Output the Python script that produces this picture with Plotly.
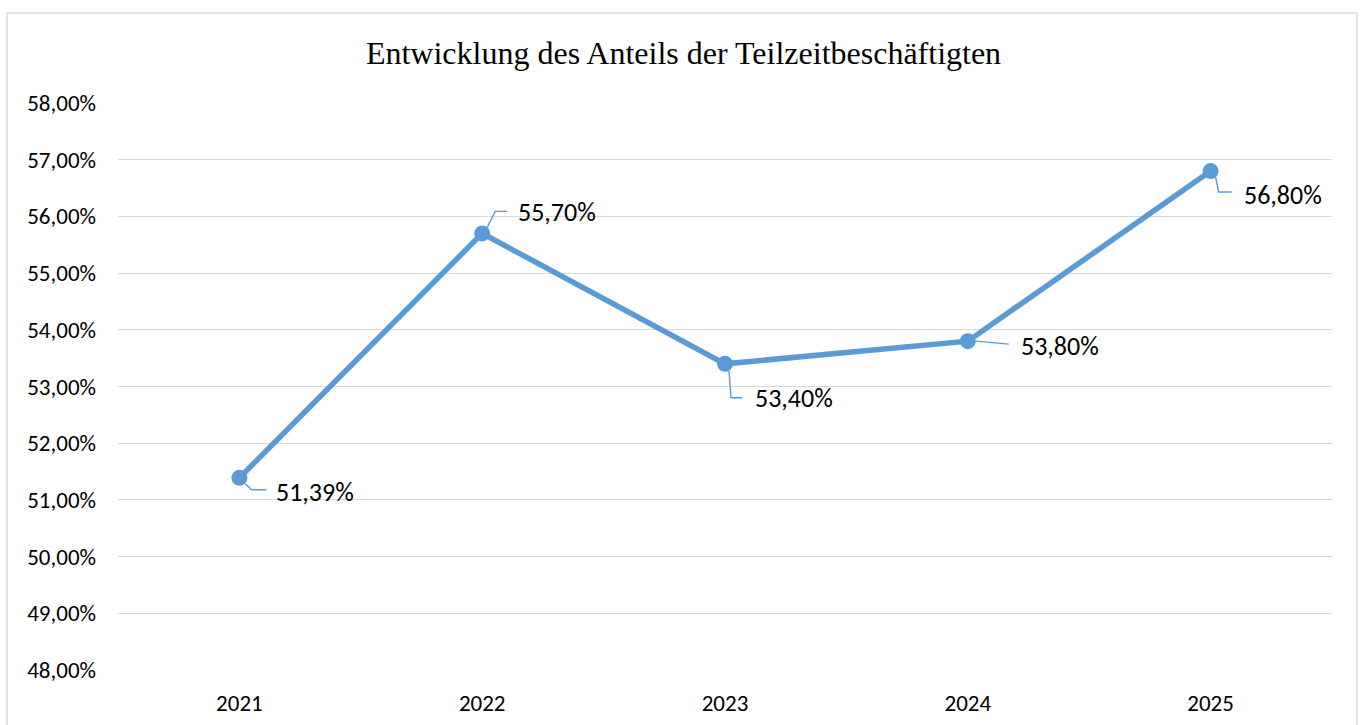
import plotly.graph_objects as go

years = ["2021", "2022", "2023", "2024", "2025"]
shares = [51.39, 55.70, 53.40, 53.80, 56.80]
label_texts = ["51,39%", "55,70%", "53,40%", "53,80%", "56,80%"]
title_text = "Entwicklung des Anteils der Teilzeitbeschäftigten"

# label offsets in pixels (text left edge relative to point; +dy = downward)
label_offsets = [(35, 14), (34, -21), (28, 34), (51, 5), (31, 24)]
leader_paths = [
    "M6,-6 L12,-12 L27,-12",
    "M5,6 L13,22 L25,22",
    "M4,-7 L6,-34 L17,-34",
    "M8,0 L30,-2 L41,-3",
    "M5,-6 L8,-21 L21,-21",
]

COLOR = "#5B9BD5"
TICKFONT = dict(family="Carlito, Lato, sans-serif", size=23, color="#000000")

fig = go.Figure()
fig.add_trace(go.Scatter(
    x=years, y=shares, mode="lines+markers",
    line=dict(color=COLOR, width=5.5),
    marker=dict(color=COLOR, size=16),
    hoverinfo="skip", showlegend=False,
))

annotations = []
shapes = []
for i, (yr, v, t) in enumerate(zip(years, shares, label_texts)):
    dx, dy = label_offsets[i]
    annotations.append(dict(
        x=i, y=v, xref="x", yref="y", text=t, showarrow=False,
        xanchor="left", yanchor="middle", xshift=dx, yshift=-dy,
        font=dict(family="Carlito, Lato, sans-serif", size=26, color="#000000"),
    ))
    shapes.append(dict(
        type="path", xref="x", yref="y", xsizemode="pixel", ysizemode="pixel",
        xanchor=i, yanchor=v, path=leader_paths[i],
        line=dict(color=COLOR, width=1.4),
    ))

# chart border
shapes.append(dict(
    type="rect", xref="paper", yref="paper",
    x0=-0.0914, x1=1.0206, y0=-0.12, y1=1.1587,
    line=dict(color="#D9D9D9", width=1.5), fillcolor="rgba(0,0,0,0)", layer="below",
))

fig.update_layout(
    width=1367, height=725,
    margin=dict(l=118, r=35, t=103, b=55, autoexpand=False),
    paper_bgcolor="white", plot_bgcolor="white",
    separators=",.",
    title=dict(text=title_text, x=0.5, xanchor="center", y=0.927, yanchor="middle",
               font=dict(family="Liberation Serif, Times New Roman, serif", size=32, color="#000000")),
    xaxis=dict(type="category", range=[-0.5, 4.5], showgrid=False, zeroline=False,
               showline=False, ticks="", tickfont=TICKFONT, ticklabelstandoff=17,
               automargin=False),
    yaxis=dict(range=[48, 58], dtick=1, tickformat=".2f", ticksuffix="%",
               showgrid=True, gridcolor="#D9D9D9", gridwidth=1.3, zeroline=False,
               showline=False, ticks="", tickfont=TICKFONT, ticklabelstandoff=21,
               automargin=False),
    annotations=annotations, shapes=shapes,
)

fig.write_html("out.html", config={"displayModeBar": False},
               post_script="document.body.style.margin='0';")
